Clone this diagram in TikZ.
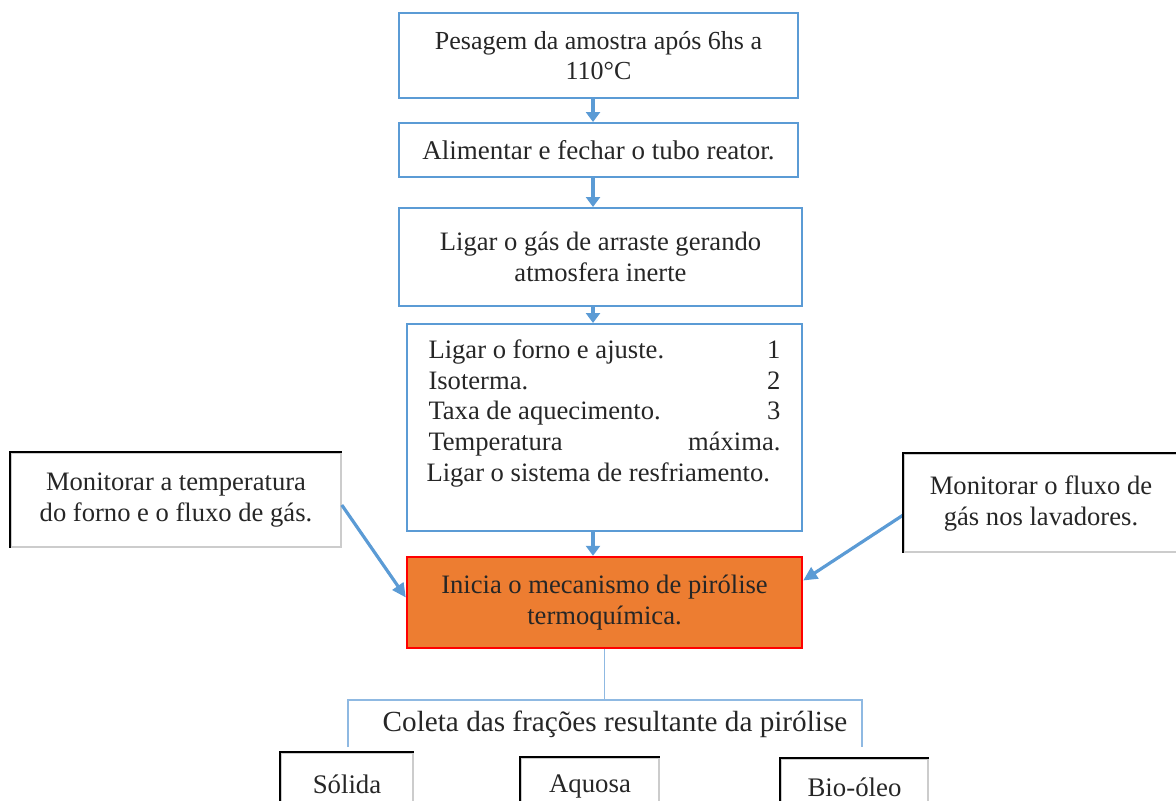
\documentclass[tikz,border=0pt]{standalone}
\usepackage{fontspec}
\setmainfont{Liberation Serif}
\usetikzlibrary{arrows.meta}
\definecolor{flowblue}{HTML}{5B9BD5}
\definecolor{linkblue}{HTML}{8FB9E2}
\definecolor{pyroorange}{HTML}{ED7D31}
\definecolor{inktext}{HTML}{262626}

\begin{document}
\begin{tikzpicture}[x=0.5pt,y=-0.5pt,
    every node/.style={text=inktext, font=\fontsize{13.3}{15.5}\selectfont},
    stepbox/.style={draw=flowblue, line width=1pt, inner sep=0pt, align=center},
    notebox/.style={draw=gray!40, line width=0.8pt, inner sep=0pt, align=center},
    flowarrow/.style={draw=flowblue, line width=2pt, -{Triangle[width=7pt,length=5pt]}},
    sidearrow/.style={draw=flowblue, line width=1.6pt, -{Triangle[width=6.5pt,length=7pt]}},
    bracket/.style={draw=linkblue, line width=0.8pt}]
  \clip (0,0) rectangle (1176,800);

  % main steps
  \node[stepbox, minimum width=199.5pt, minimum height=42.5pt,
        font=\fontsize{13}{15}\selectfont] (b1) at (598.5,55.5)
        {Pesagem da amostra após 6hs a\\110°C};
  \node[stepbox, minimum width=199.5pt, minimum height=27pt,
        font=\fontsize{13.5}{15}\selectfont] (b2) at (598.5,150)
        {Alimentar e fechar o tubo reator.};
  \node[stepbox, minimum width=201.5pt, minimum height=49pt] (b3) at (600.5,257)
        {Ligar o gás de arraste gerando\\atmosfera inerte};
  \node[stepbox, minimum width=197.5pt, minimum height=103.5pt] (b4) at (604.5,427.5)
        {\parbox[c][87.5pt][t]{176pt}{\baselineskip=15.3pt
          Ligar o forno e ajuste.\hfill 1\\
          Isoterma.\hfill 2\\
          Taxa de aquecimento.\hfill 3\\
          Temperatura\hfill máxima.\\
          \hspace*{-1pt}Ligar o sistema de resfriamento.}};
  \node[stepbox, draw=red, fill=pyroorange, line width=1.2pt,
        minimum width=197.5pt, minimum height=45.5pt] (b5) at (604.5,602.5)
        {Inicia o mecanismo de pirólise\\termoquímica.};

  % arrows between the steps
  \coordinate (axis) at (593,0);
  \foreach \a/\b in {b1/b2,b2/b3,b3/b4,b4/b5} {
    \draw[flowarrow] (\a.south -| axis) -- (\b.north -| axis);
  }

  % side notes
  \node[notebox, minimum width=165pt, minimum height=47pt] (mon1) at (176,500)
        {Monitorar a temperatura\\do forno e o fluxo de gás.};
  \node[notebox, minimum width=137pt, minimum height=49pt] (mon2) at (1041,503)
        {Monitorar o fluxo de\\gás nos lavadores.};
  \draw[sidearrow] ([yshift=-2.5pt]mon1.east) -- ([yshift=2.5pt]b5.west);
  \draw[sidearrow] ([yshift=-6pt]mon2.west) -- ([yshift=11pt]b5.east);

  % collected fractions
  \coordinate (fork) at (604.5,700);
  \coordinate (forkL) at (348,700);
  \coordinate (forkR) at (862,700);
  \coordinate (legL) at (348,747);
  \coordinate (legR) at (862,747);
  \draw[bracket] (b5.south) -- (fork);
  \draw[bracket] (legL) -- (forkL) -- (forkR) -- (legR);
  \node[font=\fontsize{14.6}{15}\selectfont] (coleta) at (615,724)
        {Coleta das frações resultante da pirólise};

  \foreach \n/\x/\y/\w/\h/\t in {sol/347/784/66/31/Sólida,
                                  aqu/590/786.5/69/28.5/Aquosa,
                                  bio/854.5/787/73.5/28/Bio-óleo} {
    \node[notebox, minimum width=\w pt, minimum height=\h pt,
          font=\fontsize{13.4}{15}\selectfont] (\n) at (\x,\y) {\t};
  }

  % dark top and left edges of the note boxes
  \foreach \n in {mon1,mon2,sol,aqu,bio} {
    \draw[black, line width=1pt] (\n.south west) -- (\n.north west) -- (\n.north east);
  }
\end{tikzpicture}
\end{document}
